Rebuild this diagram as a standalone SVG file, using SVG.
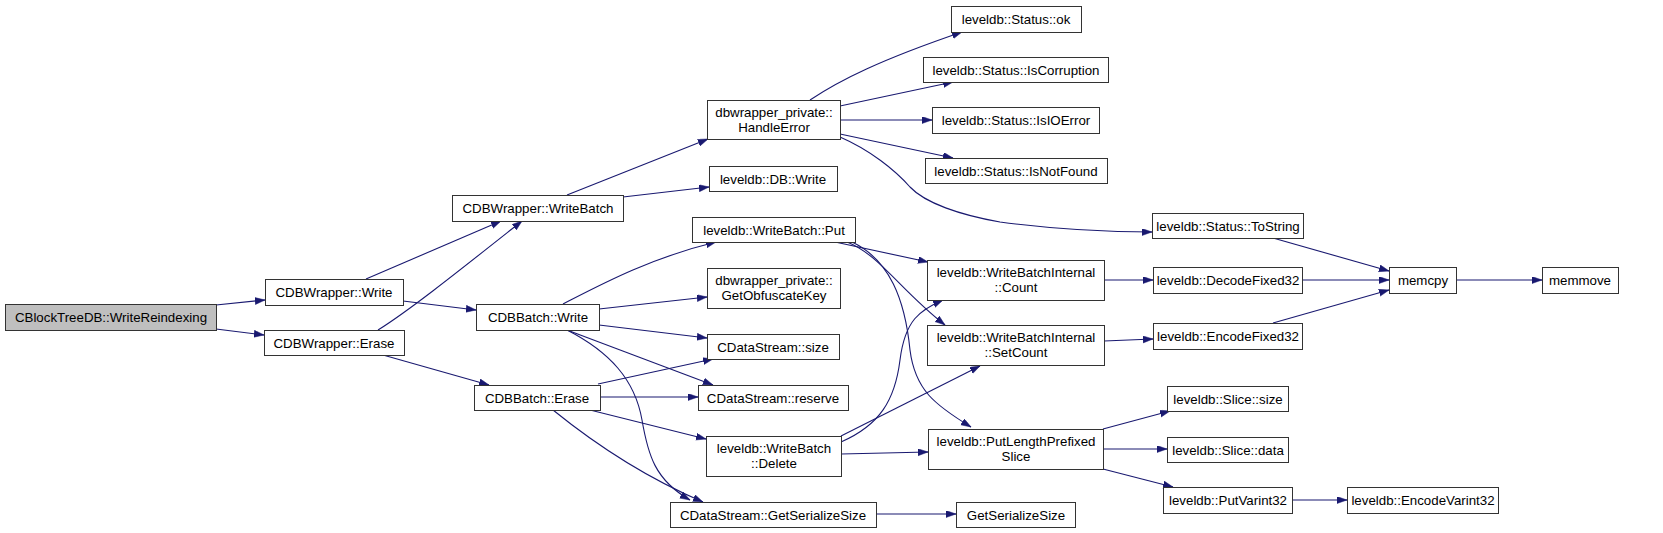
<svg xmlns="http://www.w3.org/2000/svg" width="1663" height="533" viewBox="0 0 1663 533">
<style>
.n rect{fill:#ffffff;stroke:#333333;stroke-width:1}
.n.root rect{fill:#bfbfbf}
.n text{font-family:"Liberation Sans",Arial,sans-serif;font-size:13.3px;fill:#000;text-anchor:middle}
.e path{fill:none;stroke:#191970;stroke-width:1.1;marker-end:url(#ah)}
</style>
<defs>
<marker id="ah" markerUnits="userSpaceOnUse" markerWidth="11" markerHeight="8" refX="10" refY="3.5" orient="auto">
<path d="M0,0 L10,3.5 L0,7 z" fill="#191970" stroke="#191970" stroke-width="0.5"/>
</marker>
</defs>
<rect width="1663" height="533" fill="#ffffff"/>
<g id="edges" class="e">
<path d="M216,305 L265,300"/>
<path d="M216,329 L264,335"/>
<path d="M366,279 L501,221"/>
<path d="M378,330 C410,310 460,270 522,221"/>
<path d="M403,301 L476,310"/>
<path d="M383,355 L489,385"/>
<path d="M567,195 L708,139"/>
<path d="M623,197 L709,187"/>
<path d="M810,100 C840,80 880,60 962,32"/>
<path d="M840,106 L953,82"/>
<path d="M840,120 L932,120"/>
<path d="M840,134 L953,158"/>
<path d="M840,137 C870,150 895,170 910,187 C925,203 960,215 1000,222 C1060,230 1110,232 1152,232"/>
<path d="M563,304 C600,285 650,258 716,242"/>
<path d="M599,309 L707,297"/>
<path d="M599,325 L707,338"/>
<path d="M567,330 L713,385"/>
<path d="M567,330 C610,352 635,380 642,420 C648,455 655,480 690,500"/>
<path d="M598,384 L713,359"/>
<path d="M600,397 L698,397"/>
<path d="M590,410 L706,439"/>
<path d="M553,410 C590,440 640,475 703,502"/>
<path d="M835,242 L928,262"/>
<path d="M847,242 C880,255 900,290 945,325"/>
<path d="M852,242 C890,260 905,300 910,350 C915,390 935,405 971,427"/>
<path d="M841,442 C880,425 895,400 900,360 C905,320 920,310 943,300"/>
<path d="M841,436 L980,366"/>
<path d="M841,454 L928,452"/>
<path d="M1104,280 L1153,280"/>
<path d="M1104,341 L1153,339"/>
<path d="M1273,238 L1389,271"/>
<path d="M1302,280 L1389,280"/>
<path d="M1273,323 L1389,290"/>
<path d="M1456,280 L1542,280"/>
<path d="M1103,429 L1170,411"/>
<path d="M1103,449 L1167,449"/>
<path d="M1103,469 L1173,487"/>
<path d="M1292,500 L1347,500"/>
<path d="M876,514 L956,514"/>
</g>
<g id="n0" class="n root"><rect x="5.5" y="304.5" width="211" height="26"/><text x="111" y="322">CBlockTreeDB::WriteReindexing</text></g>
<g id="n1" class="n"><rect x="265.5" y="279.5" width="138" height="26"/><text x="334" y="297">CDBWrapper::Write</text></g>
<g id="n2" class="n"><rect x="264.5" y="330.5" width="140" height="25"/><text x="334" y="347.5">CDBWrapper::Erase</text></g>
<g id="n3" class="n"><rect x="452.5" y="195.5" width="171" height="26"/><text x="538" y="213">CDBWrapper::WriteBatch</text></g>
<g id="n4" class="n"><rect x="707.5" y="100.5" width="133" height="39"/><text x="774" y="117">dbwrapper_private::</text><text x="774" y="132">HandleError</text></g>
<g id="n5" class="n"><rect x="709.5" y="166.5" width="128" height="25"/><text x="773" y="183.5">leveldb::DB::Write</text></g>
<g id="n6" class="n"><rect x="951.5" y="6.5" width="130" height="26"/><text x="1016" y="24">leveldb::Status::ok</text></g>
<g id="n7" class="n"><rect x="923.5" y="57.5" width="185" height="25"/><text x="1016" y="74.5">leveldb::Status::IsCorruption</text></g>
<g id="n8" class="n"><rect x="932.5" y="107.5" width="167" height="26"/><text x="1016" y="125">leveldb::Status::IsIOError</text></g>
<g id="n9" class="n"><rect x="925.5" y="158.5" width="182" height="25"/><text x="1016" y="175.5">leveldb::Status::IsNotFound</text></g>
<g id="n10" class="n"><rect x="1152.5" y="213.5" width="151" height="25"/><text x="1228" y="230.5">leveldb::Status::ToString</text></g>
<g id="n11" class="n"><rect x="476.5" y="304.5" width="123" height="26"/><text x="538" y="322">CDBBatch::Write</text></g>
<g id="n12" class="n"><rect x="474.5" y="385.5" width="126" height="25"/><text x="537" y="402.5">CDBBatch::Erase</text></g>
<g id="n13" class="n"><rect x="692.5" y="217.5" width="163" height="25"/><text x="774" y="234.5">leveldb::WriteBatch::Put</text></g>
<g id="n14" class="n"><rect x="707.5" y="268.5" width="133" height="40"/><text x="774" y="285">dbwrapper_private::</text><text x="774" y="300">GetObfuscateKey</text></g>
<g id="n15" class="n"><rect x="707.5" y="334.5" width="132" height="25"/><text x="773" y="351.5">CDataStream::size</text></g>
<g id="n16" class="n"><rect x="698.5" y="385.5" width="150" height="25"/><text x="773" y="402.5">CDataStream::reserve</text></g>
<g id="n17" class="n"><rect x="706.5" y="436.5" width="135" height="40"/><text x="774" y="453">leveldb::WriteBatch</text><text x="774" y="468">::Delete</text></g>
<g id="n18" class="n"><rect x="670.5" y="502.5" width="206" height="25"/><text x="773" y="519.5">CDataStream::GetSerializeSize</text></g>
<g id="n19" class="n"><rect x="927.5" y="260.5" width="177" height="40"/><text x="1016" y="277">leveldb::WriteBatchInternal</text><text x="1016" y="292">::Count</text></g>
<g id="n20" class="n"><rect x="927.5" y="325.5" width="177" height="40"/><text x="1016" y="342">leveldb::WriteBatchInternal</text><text x="1016" y="357">::SetCount</text></g>
<g id="n21" class="n"><rect x="928.5" y="429.5" width="175" height="40"/><text x="1016" y="446">leveldb::PutLengthPrefixed</text><text x="1016" y="461">Slice</text></g>
<g id="n22" class="n"><rect x="956.5" y="502.5" width="119" height="25"/><text x="1016" y="519.5">GetSerializeSize</text></g>
<g id="n23" class="n"><rect x="1153.5" y="267.5" width="149" height="26"/><text x="1228" y="285">leveldb::DecodeFixed32</text></g>
<g id="n24" class="n"><rect x="1153.5" y="323.5" width="149" height="26"/><text x="1228" y="341">leveldb::EncodeFixed32</text></g>
<g id="n25" class="n"><rect x="1389.5" y="267.5" width="67" height="26"/><text x="1423" y="285">memcpy</text></g>
<g id="n26" class="n"><rect x="1542.5" y="267.5" width="76" height="26"/><text x="1580" y="285">memmove</text></g>
<g id="n27" class="n"><rect x="1167.5" y="386.5" width="121" height="25"/><text x="1228" y="403.5">leveldb::Slice::size</text></g>
<g id="n28" class="n"><rect x="1167.5" y="437.5" width="121" height="25"/><text x="1228" y="454.5">leveldb::Slice::data</text></g>
<g id="n29" class="n"><rect x="1163.5" y="487.5" width="129" height="26"/><text x="1228" y="505">leveldb::PutVarint32</text></g>
<g id="n30" class="n"><rect x="1347.5" y="487.5" width="151" height="26"/><text x="1423" y="505">leveldb::EncodeVarint32</text></g>
</svg>
